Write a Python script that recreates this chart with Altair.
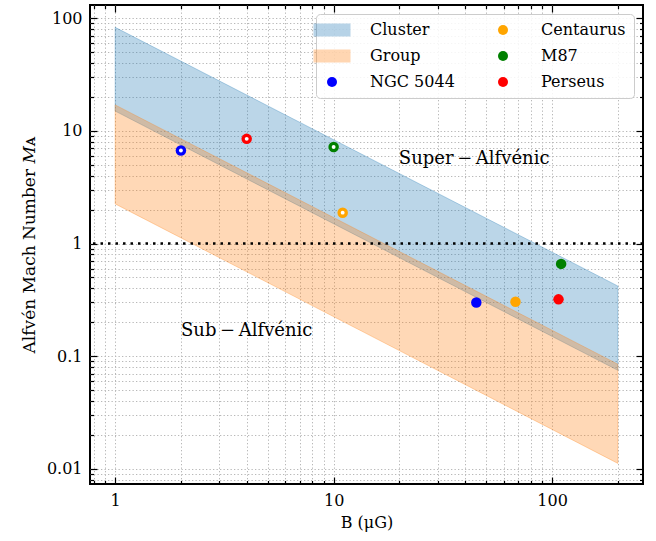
import altair as alt
import pandas as pd

# ---- data ----
band_B = [1.0, 200.0]
cluster_upper = [83.0, 0.42]
cluster_lower = [15.0, 0.075]
group_upper = [17.0, 0.085]
group_lower = [2.25, 0.0112]

source_names = ["NGC 5044", "Perseus", "M87", "Centaurus"]
B_low = [2.0, 4.0, 10.0, 11.0]
MA_low = [6.7, 8.5, 7.2, 1.88]
B_high = [45.0, 107.0, 110.0, 68.0]
MA_high = [0.30, 0.32, 0.66, 0.305]

regime_labels = ["Super\u2009\u2212\u2009Alfvénic", "Sub\u2009\u2212\u2009Alfvénic"]
regime_B = [44.0, 4.0]
regime_MA = [5.65, 0.167]

unity_MA = [1.0]

legend_order = ["Cluster", "Group", "NGC 5044", "Centaurus", "M87", "Perseus"]
legend_colors = ["rgba(31,119,180,0.32)", "rgba(255,127,14,0.32)", "blue", "orange", "green", "red"]
rect_path = "M-3.7,-1.3H3.7V1.3H-3.7Z"
legend_shapes = [rect_path, rect_path, "circle", "circle", "circle", "circle"]

x_domain = [0.767, 260.7]
y_domain = [0.00735, 131.0]
x_major = [1, 10, 100]
x_minor = [0.8, 0.9, 2, 3, 4, 5, 6, 7, 8, 9, 20, 30, 40, 50, 60, 70, 80, 90, 200]
y_major = [0.01, 0.1, 1, 10, 100]
y_minor = [0.008, 0.009,
           0.02, 0.03, 0.04, 0.05, 0.06, 0.07, 0.08, 0.09,
           0.2, 0.3, 0.4, 0.5, 0.6, 0.7, 0.8, 0.9,
           2, 3, 4, 5, 6, 7, 8, 9,
           20, 30, 40, 50, 60, 70, 80, 90]

W, H = 553, 479
FONT = "DejaVu Serif"

# ---- tables ----
bands = pd.DataFrame({
    "B": band_B,
    "c_lo": cluster_lower, "c_hi": cluster_upper,
    "g_lo": group_lower, "g_hi": group_upper,
})
pts = pd.DataFrame({
    "B": B_low + B_high,
    "MA": MA_low + MA_high,
    "label": source_names + source_names,
})
pts_low = pd.DataFrame({"B": B_low, "MA": MA_low})
texts = pd.DataFrame({"B": regime_B, "MA": regime_MA, "t": regime_labels})
unity = pd.DataFrame({"MA": unity_MA})

xs = alt.Scale(type="log", domain=x_domain, nice=False)
ys = alt.Scale(type="log", domain=y_domain, nice=False)

all_x = sorted(x_major + x_minor)
all_y = sorted(y_major + y_minor)

def tick_axis(values, orient, size, offset):
    return alt.Axis(values=values, orient=orient, offset=offset, tickSize=size,
                    tickWidth=1.2, tickColor="black", labels=False, domain=False,
                    grid=False, title=None, zindex=2)

grid_x = alt.Axis(values=all_x, orient="bottom", grid=True, gridDash=[1.3, 2.2],
                  gridColor="#b8b8b8", gridWidth=1, ticks=False, labels=False,
                  domain=False, title=None, zindex=0)
grid_y = alt.Axis(values=all_y, orient="left", grid=True, gridDash=[1.3, 2.2],
                  gridColor="#b8b8b8", gridWidth=1, ticks=False, labels=False,
                  domain=False, title=None, zindex=0)
label_x = alt.Axis(values=x_major, orient="bottom", format="~g", ticks=False,
                   domain=False, grid=False, labelPadding=8, title="B (μG)",
                   labelFont=FONT, labelFontSize=16, labelColor="black",
                   titleFont=FONT, titleFontSize=16, titleFontWeight="normal",
                   titleColor="black", titlePadding=6, zindex=1)
label_y = alt.Axis(values=y_major, orient="left", format="~g", ticks=False,
                   domain=False, grid=False, labelPadding=8,
                   labelFont=FONT, labelFontSize=16, labelColor="black",
                   titleFont=FONT, titleFontSize=17, titleFontWeight="normal",
                   titleColor="black",
                   title="Alfvén Mach Number 𝑀ᴀ", titlePadding=8, zindex=1)

legend_def = alt.Legend(title=None, orient="top-right", offset=9, columns=2, padding=8,
                        labelFont=FONT, labelFontSize=16, labelColor="black",
                        labelOffset=30, columnPadding=40, rowPadding=10,
                        fillColor="rgba(255,255,255,0.85)", strokeColor="#cccccc",
                        cornerRadius=4, symbolStrokeWidth=0)

cluster = alt.Chart(bands).mark_area(
    color="#1f77b4", fillOpacity=0.3, stroke="#1f77b4", strokeOpacity=0.3, strokeWidth=1
).encode(
    x=alt.X("B:Q", scale=xs, axis=grid_x),
    y=alt.Y("c_lo:Q", scale=ys, axis=grid_y),
    y2="c_hi:Q",
)
group = alt.Chart(bands).mark_area(
    color="#ff7f0e", fillOpacity=0.3, stroke="#ff7f0e", strokeOpacity=0.3, strokeWidth=1
).encode(
    x=alt.X("B:Q", scale=xs, axis=label_x),
    y=alt.Y("g_lo:Q", scale=ys, axis=label_y),
    y2="g_hi:Q",
)
holder = alt.Chart(pts).mark_point(opacity=0).encode(
    x=alt.X("B:Q", scale=xs, axis=tick_axis(x_major, "top", 7, -H)),
    y=alt.Y("MA:Q", scale=ys, axis=tick_axis(y_major, "right", 7, -W)),
)
points = alt.Chart(pts).mark_point(filled=True, size=110, opacity=1).encode(
    x=alt.X("B:Q", scale=xs, axis=tick_axis(x_minor, "top", 3.5, -H)),
    y=alt.Y("MA:Q", scale=ys, axis=tick_axis(y_minor, "right", 3.5, -W)),
    color=alt.Color("label:N", scale=alt.Scale(domain=legend_order, range=legend_colors),
                    legend=legend_def),
    shape=alt.Shape("label:N", scale=alt.Scale(domain=legend_order, range=legend_shapes),
                    legend=legend_def),
)
centers = alt.Chart(pts_low).mark_circle(color="white", size=15, opacity=1).encode(
    x=alt.X("B:Q", scale=xs, axis=tick_axis(x_major, "bottom", 7, -H)),
    y=alt.Y("MA:Q", scale=ys, axis=tick_axis(y_major, "left", 7, -W)),
)
labels = alt.Chart(texts).mark_text(font=FONT, fontSize=18, color="black",
                                    align="center", baseline="middle").encode(
    x=alt.X("B:Q", scale=xs, axis=tick_axis(x_minor, "bottom", 3.5, -H)),
    y=alt.Y("MA:Q", scale=ys, axis=tick_axis(y_minor, "left", 3.5, -W)),
    text="t:N",
)
unity_line = alt.Chart(unity).mark_rule(color="black", strokeWidth=2.5,
                                        strokeDash=[2.5, 5]).encode(
    y=alt.Y("MA:Q", scale=ys, axis=None),
)

chart = alt.layer(cluster, group, unity_line, holder, points, centers, labels).resolve_axis(
    x="independent", y="independent"
).properties(
    width=W, height=H,
    autosize=alt.AutoSizeParams(type="none"),
    padding={"left": 90, "top": 5, "right": 13, "bottom": 57},
).configure(
    font=FONT,
    style={"guide-label": {"font": FONT}, "guide-title": {"font": FONT}},
).configure_view(
    stroke="black", strokeWidth=2
).configure_axis(
    labelFont=FONT, labelFontSize=16, labelColor="black",
    titleFont=FONT, titleFontWeight="normal", titleColor="black",
).configure_legend(
    labelFont=FONT, labelFontSize=16, labelColor="black",
)

chart.save("out.html", embed_options={"renderer": "svg", "actions": False})
